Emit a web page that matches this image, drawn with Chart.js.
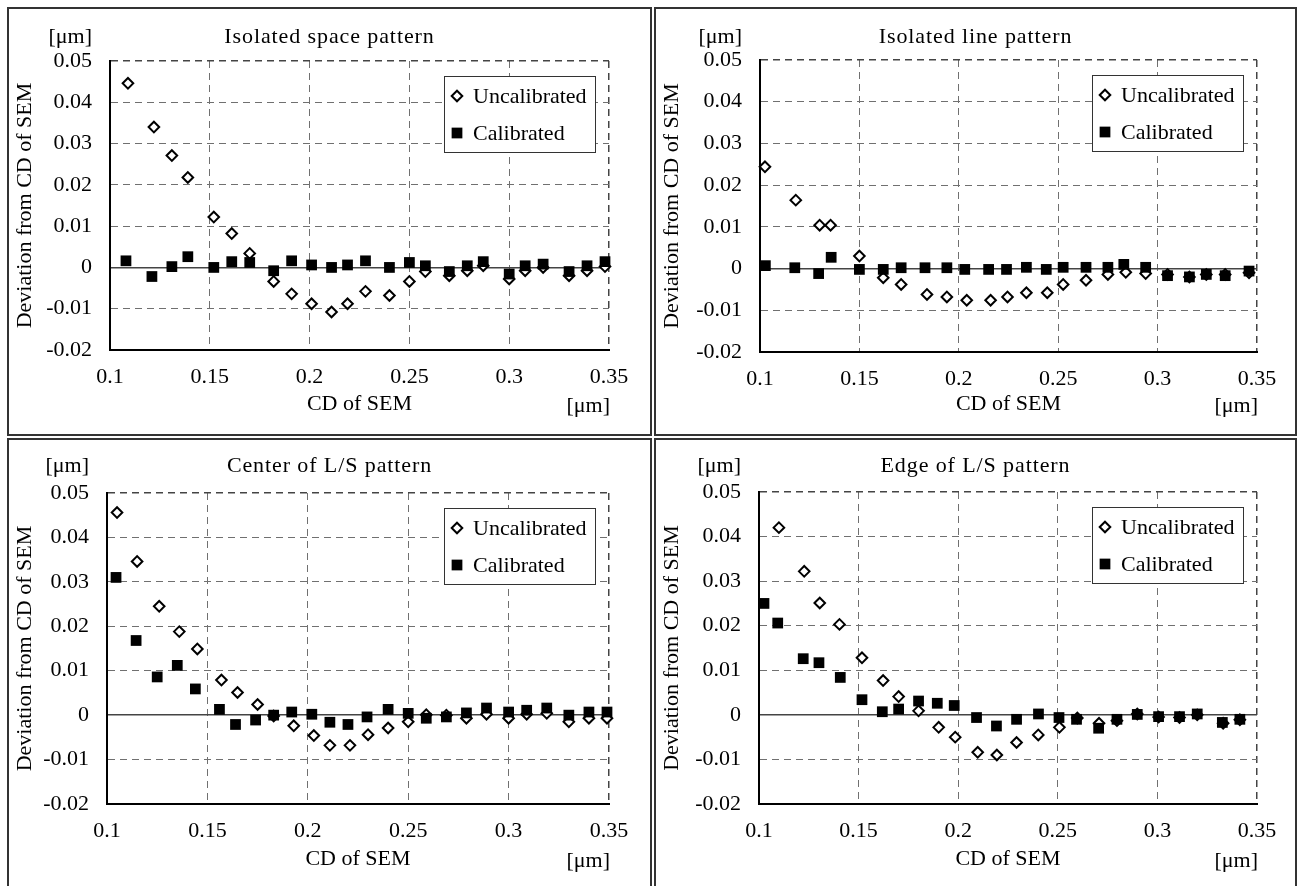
<!DOCTYPE html>
<html>
<head>
<meta charset="utf-8">
<script src="https://cdn.jsdelivr.net/npm/chart.js@4.4.1/dist/chart.umd.min.js"></script>
<style>
html,body{margin:0;padding:0;background:#fff;width:1303px;height:886px;overflow:hidden}
.panel{position:absolute;border:2px solid #333;box-sizing:border-box;background:#fff}
.panel canvas{position:absolute;left:0;top:0}
</style>
</head>
<body>
<div class="panel" style="left:7px;top:7px;width:645px;height:429px"><canvas id="c1"></canvas></div>
<div class="panel" style="left:654px;top:7px;width:643px;height:429px"><canvas id="c2"></canvas></div>
<div class="panel" style="left:7px;top:438px;width:645px;height:452px"><canvas id="c3"></canvas></div>
<div class="panel" style="left:654px;top:438px;width:643px;height:452px"><canvas id="c4"></canvas></div>
<script>
// ---------- data ----------
const xTickValues = [0.1, 0.15, 0.2, 0.25, 0.3, 0.35];
const xTickLabels = ['0.1', '0.15', '0.2', '0.25', '0.3', '0.35'];
const yTickValues = [-0.02, -0.01, 0, 0.01, 0.02, 0.03, 0.04, 0.05];
const yTickLabels = ['-0.02', '-0.01', '0', '0.01', '0.02', '0.03', '0.04', '0.05'];
const seriesNames = ['Uncalibrated', 'Calibrated'];
const panelTitles = ['Isolated space pattern', 'Isolated line pattern', 'Center of L/S pattern', 'Edge of L/S pattern'];
const xAxisTitle = 'CD of SEM';
const yAxisTitle = 'Deviation from CD of SEM';
const unitText = '[\u03bcm]';

// Isolated space pattern
const spaceUncalX = [0.109, 0.122, 0.131, 0.139, 0.152, 0.161, 0.170, 0.182, 0.191, 0.201, 0.211, 0.219, 0.228, 0.240, 0.250, 0.258, 0.270, 0.279, 0.287, 0.300, 0.308, 0.317, 0.330, 0.339, 0.348];
const spaceUncalY = [0.0446, 0.0340, 0.0271, 0.0218, 0.0122, 0.0082, 0.0034, -0.0034, -0.0064, -0.0088, -0.0108, -0.0088, -0.0058, -0.0068, -0.0034, -0.0010, -0.0020, -0.0008, 0.0004, -0.0028, -0.0008, 0.0000, -0.0020, -0.0008, 0.0002];
const spaceCalX = [0.108, 0.121, 0.131, 0.139, 0.152, 0.161, 0.170, 0.182, 0.191, 0.201, 0.211, 0.219, 0.228, 0.240, 0.250, 0.258, 0.270, 0.279, 0.287, 0.300, 0.308, 0.317, 0.330, 0.339, 0.348];
const spaceCalY = [0.0016, -0.0022, 0.0002, 0.0026, 0.0000, 0.0014, 0.0012, -0.0008, 0.0016, 0.0006, 0.0000, 0.0006, 0.0016, 0.0000, 0.0012, 0.0004, -0.0010, 0.0004, 0.0014, -0.0016, 0.0004, 0.0008, -0.0010, 0.0004, 0.0014];

// Isolated line pattern
const lineUncalX = [0.1025, 0.118, 0.130, 0.1355, 0.150, 0.162, 0.171, 0.184, 0.194, 0.204, 0.216, 0.2245, 0.234, 0.2445, 0.2525, 0.264, 0.275, 0.284, 0.294, 0.305, 0.316, 0.3245, 0.334, 0.346];
const lineUncalY = [0.0244, 0.0164, 0.0104, 0.0104, 0.0030, -0.0022, -0.0038, -0.0062, -0.0068, -0.0076, -0.0076, -0.0068, -0.0058, -0.0058, -0.0038, -0.0028, -0.0014, -0.0009, -0.0012, -0.0014, -0.0020, -0.0014, -0.0014, -0.0010];
const lineCalX = [0.1027, 0.1175, 0.1295, 0.1358, 0.150, 0.162, 0.171, 0.183, 0.194, 0.203, 0.215, 0.224, 0.234, 0.244, 0.2525, 0.264, 0.275, 0.283, 0.294, 0.305, 0.316, 0.3245, 0.334, 0.346];
const lineCalY = [0.0007, 0.0002, -0.0012, 0.0027, -0.0002, -0.0002, 0.0002, 0.0002, 0.0002, -0.0002, -0.0002, -0.0002, 0.0003, -0.0002, 0.0003, 0.0003, 0.0003, 0.0010, 0.0003, -0.0017, -0.0020, -0.0014, -0.0017, -0.0006];

// Center of L/S pattern
const centerUncalX = [0.105, 0.115, 0.126, 0.136, 0.145, 0.157, 0.165, 0.175, 0.183, 0.193, 0.203, 0.211, 0.221, 0.230, 0.240, 0.250, 0.259, 0.269, 0.279, 0.289, 0.300, 0.309, 0.319, 0.330, 0.340, 0.349];
const centerUncalY = [0.0456, 0.0346, 0.0245, 0.0188, 0.0149, 0.0079, 0.0051, 0.0024, -0.0002, -0.0024, -0.0046, -0.0068, -0.0068, -0.0044, -0.0029, -0.0015, 0.0001, 0.0000, -0.0007, 0.0002, -0.0007, 0.0002, 0.0004, -0.0015, -0.0007, -0.0007];
const centerCalX = [0.1045, 0.1145, 0.125, 0.135, 0.144, 0.156, 0.164, 0.174, 0.183, 0.192, 0.202, 0.211, 0.220, 0.2295, 0.240, 0.250, 0.259, 0.269, 0.279, 0.289, 0.300, 0.309, 0.319, 0.330, 0.340, 0.349];
const centerCalY = [0.0310, 0.0168, 0.0086, 0.0112, 0.0059, 0.0013, -0.0021, -0.0011, 0.0000, 0.0007, 0.0002, -0.0016, -0.0021, -0.0004, 0.0013, 0.0004, -0.0007, -0.0004, 0.0005, 0.0016, 0.0007, 0.0011, 0.0016, 0.0000, 0.0007, 0.0007];

// Edge of L/S pattern
const edgeUncalX = [0.110, 0.1227, 0.1305, 0.1404, 0.1517, 0.1623, 0.1701, 0.1801, 0.1902, 0.1985, 0.2098, 0.2194, 0.2293, 0.2402, 0.2508, 0.2598, 0.2707, 0.2797, 0.2899, 0.3006, 0.3111, 0.3200, 0.3330, 0.3414];
const edgeUncalY = [0.0420, 0.0322, 0.0251, 0.0203, 0.0128, 0.0077, 0.0041, 0.0009, -0.0028, -0.0050, -0.0084, -0.0090, -0.0062, -0.0045, -0.0028, -0.0007, -0.0019, -0.0013, 0.0002, -0.0005, -0.0006, 0.0000, -0.0019, -0.0011];
const edgeCalX = [0.1025, 0.1094, 0.1222, 0.1301, 0.1408, 0.1517, 0.1619, 0.1701, 0.1801, 0.1895, 0.1980, 0.2092, 0.2192, 0.2293, 0.2403, 0.2506, 0.2594, 0.2705, 0.2797, 0.2899, 0.3006, 0.3111, 0.3200, 0.3326, 0.3414];
const edgeCalY = [0.0250, 0.0206, 0.0126, 0.0117, 0.0084, 0.0034, 0.0007, 0.0013, 0.0031, 0.0026, 0.0021, -0.0006, -0.0025, -0.0010, 0.0002, -0.0006, -0.0010, -0.0030, -0.0010, 0.0001, -0.0004, -0.0004, 0.0002, -0.0017, -0.0010];

// ---------- rendering ----------
const FAMILY = '"Liberation Serif", "Times New Roman", serif';
const FSIZE = 22;
const FONT = FSIZE + 'px ' + FAMILY;
Chart.defaults.font.family = FAMILY;
Chart.defaults.font.size = FSIZE;
Chart.defaults.color = '#000';

const GRID = '#707070';
const DARK = '#444';

function pts(xs, ys) { return xs.map((x, i) => ({ x: x, y: ys[i] })); }

const extras = {
  id: 'extras',
  afterLayout(chart) {
    const t = chart.titleBlock;
    if (t) {
      t.left = 0; t.right = chart.width; t.width = chart.width;
      if (!t._spaced) {
        const orig = t.draw.bind(t);
        t.draw = function () {
          const c = this.ctx;
          c.save();
          if ('letterSpacing' in c) c.letterSpacing = '0.9px';
          orig();
          c.restore();
        };
        t._spaced = true;
      }
    }
  },
  afterDraw(chart, args, opts) {
    const ctx = chart.ctx, a = chart.chartArea;
    ctx.save();
    ctx.font = FONT;
    ctx.fillStyle = '#000';
    ctx.textBaseline = 'middle';
    ctx.textAlign = 'right';
    ctx.fillText(unitText, a.left - 18, opts.unitTopY);
    ctx.fillText(unitText, a.right + 1, opts.unitBottomY);
    const bw = 151, bh = 76;
    const bx = Math.round(a.right - 14 - bw), by = Math.round(a.top + 15);
    ctx.fillStyle = '#fff';
    ctx.fillRect(bx, by, bw, bh);
    ctx.strokeStyle = '#333';
    ctx.lineWidth = 1;
    ctx.strokeRect(bx + 0.5, by + 0.5, bw, bh);
    chart.data.datasets.forEach((ds, i) => {
      const y = by + 20 + i * 37;
      ctx.fillStyle = ds.backgroundColor;
      ctx.strokeStyle = ds.borderColor;
      ctx.lineWidth = ds.borderWidth;
      Chart.helpers.drawPoint(ctx, { pointStyle: ds.pointStyle, radius: ds.pointRadius, rotation: 0, borderWidth: ds.borderWidth }, bx + 13, y);
      ctx.fillStyle = '#000';
      ctx.textAlign = 'left';
      ctx.fillText(ds.label, bx + 29, y + 1);
    });
    ctx.restore();
  }
};

function makeChart(id, title, ux, uy, cx, cy, L) {
  const cv = document.getElementById(id);
  cv.width = L.w; cv.height = L.h;
  const lastX = xTickValues.length - 1, lastY = yTickValues.length - 1;
  return new Chart(cv, {
    type: 'scatter',
    data: {
      datasets: [
        { label: seriesNames[0], data: pts(ux, uy), pointStyle: 'rectRot', pointRadius: 5.3,
          backgroundColor: '#fff', borderColor: '#000', borderWidth: 2, order: 1, clip: false },
        { label: seriesNames[1], data: pts(cx, cy), pointStyle: 'rect', pointRadius: 7.6,
          backgroundColor: '#000', borderColor: '#000', borderWidth: 0, order: 0, clip: false }
      ]
    },
    options: {
      responsive: false, animation: false, events: [],
      layout: { padding: { left: 0, right: L.padR, top: 0, bottom: 0 } },
      plugins: {
        legend: { display: false }, tooltip: { enabled: false },
        title: { display: true, text: title, color: '#000', font: { size: FSIZE, weight: 'normal' },
                 padding: { top: L.tTop, bottom: L.tBot } },
        extras: { unitTopY: L.uTop, unitBottomY: L.uBot }
      },
      scales: {
        x: {
          type: 'linear', min: 0.1, max: 0.35,
          afterBuildTicks: s => { s.ticks = xTickValues.map(v => ({ value: v })); },
          afterFit: s => { s.height = L.xH; },
          ticks: { callback: (v, i) => xTickLabels[i], padding: 14, maxRotation: 0, autoSkip: false },
          grid: {
            drawTicks: false,
            color: c => c.index === 0 ? 'rgba(0,0,0,0)' : (c.index === lastX ? DARK : GRID),
            lineWidth: c => c.index === lastX ? 1.5 : 1
          },
          border: { display: true, color: '#000', width: 2, dash: c => (c.tick ? [7, 5] : []) },
          title: { display: true, text: xAxisTitle, padding: { top: 0, bottom: L.xtB } }
        },
        y: {
          type: 'linear', min: -0.02, max: 0.05,
          afterBuildTicks: s => { s.ticks = yTickValues.map(v => ({ value: v })); },
          afterFit: s => { s.width = L.yW; },
          ticks: { callback: (v, i) => yTickLabels[i], padding: 18, autoSkip: false },
          grid: {
            drawTicks: false,
            color: c => c.index === 0 ? 'rgba(0,0,0,0)' : ((c.index === lastY || yTickValues[c.index] === 0) ? DARK : GRID),
            lineWidth: c => (yTickValues[c.index] === 0 || c.index === lastY) ? 1.5 : 1
          },
          border: { display: true, color: '#000', width: 2,
                    dash: c => (c.tick && yTickValues[c.index] !== 0 ? [7, 5] : []) },
          title: { display: true, text: yAxisTitle, padding: { top: 3, bottom: 0 } }
        }
      }
    },
    plugins: [extras]
  });
}

makeChart('c1', panelTitles[0], spaceUncalX, spaceUncalY, spaceCalX, spaceCalY,
  { w: 641, h: 425, yW: 101, padR: 41, xH: 84, tTop: 15, tBot: 10.6, xtB: 16.8, uTop: 28.5, uBot: 397 });
makeChart('c2', panelTitles[1], lineUncalX, lineUncalY, lineCalX, lineCalY,
  { w: 639, h: 425, yW: 104, padR: 38, xH: 82, tTop: 15, tBot: 9.6, xtB: 16.8, uTop: 28.5, uBot: 397 });
makeChart('c3', panelTitles[2], centerUncalX, centerUncalY, centerCalX, centerCalY,
  { w: 641, h: 446, yW: 98, padR: 41, xH: 82, tTop: 13, tBot: 13.6, xtB: 13.8, uTop: 26, uBot: 421 });
makeChart('c4', panelTitles[3], edgeUncalX, edgeUncalY, edgeCalX, edgeCalY,
  { w: 639, h: 446, yW: 103, padR: 38, xH: 82, tTop: 13, tBot: 12.6, xtB: 13.8, uTop: 26, uBot: 421 });
</script>
</body>
</html>
